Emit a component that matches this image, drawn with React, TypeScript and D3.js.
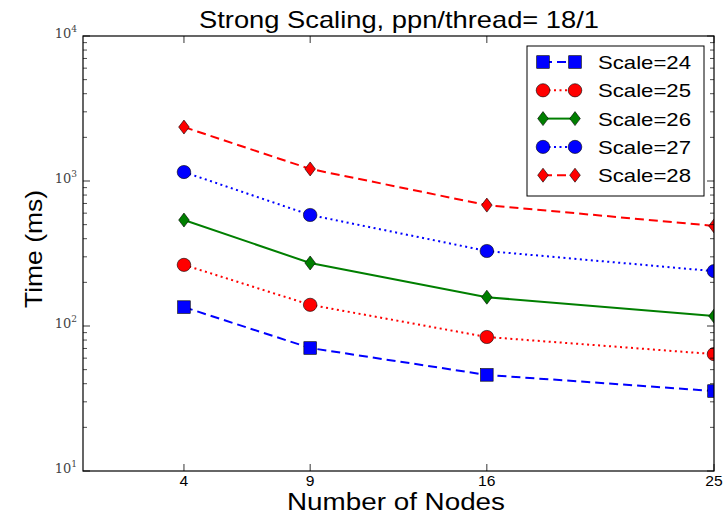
import React from "react";
import * as d3 from "d3";

const nodes = [4, 9, 16, 25];
const seriesNames = ["Scale=24", "Scale=25", "Scale=26", "Scale=27", "Scale=28"];
const scale24 = [135, 70.5, 46, 35.6];
const scale25 = [264, 140, 84, 64];
const scale26 = [538, 272, 158, 117];
const scale27 = [1153, 583, 329, 239];
const scale28 = [2355, 1211, 682, 490];
const xTickLabels = ["4", "9", "16", "25"];
const yMajor = [1, 2, 3, 4];

const seriesValues = [scale24, scale25, scale26, scale27, scale28];
const styles = [
  { color: "#0000ff", dash: "9,5", marker: "square" },
  { color: "#ff0000", dash: "2,3.5", marker: "circle" },
  { color: "#007f00", dash: "", marker: "diamond" },
  { color: "#0000ff", dash: "2,3.5", marker: "circle" },
  { color: "#ff0000", dash: "9,5", marker: "diamond" },
];

const L = 83, R = 714, T = 36, B = 471;
const SANS = "Liberation Sans, Arial, sans-serif";

function Marker({ type, x, y, color }: { type: string; x: number; y: number; color: string }) {
  if (type === "square")
    return <rect x={x - 6.3} y={y - 6.3} width={12.6} height={12.6} fill={color} stroke="#000" strokeWidth={0.6} />;
  if (type === "circle")
    return <ellipse cx={x} cy={y} rx={6.8} ry={6.6} fill={color} stroke="#000" strokeWidth={0.6} />;
  return (
    <path d={`M${x},${y - 7}L${x + 5.3},${y}L${x},${y + 7}L${x - 5.3},${y}Z`} fill={color} stroke="#000" strokeWidth={0.6} />
  );
}

export default function App() {
  const x = d3.scaleLinear().domain([0, 25]).range([L, R]);
  const y = d3.scaleLog().domain([10, 10000]).range([B, T]);
  const line = d3.line<[number, number]>().x((d) => x(d[0])).y((d) => y(d[1]));

  const minor: number[] = [];
  for (let e = 1; e < 4; e++) for (let m = 2; m <= 9; m++) minor.push(m * Math.pow(10, e));

  return (
    <svg width={724} height={515} style={{ position: "absolute", left: 0, top: 0 }}>
      <defs>
        <clipPath id="plot">
          <rect x={L} y={T} width={R - L} height={B - T} />
        </clipPath>
      </defs>
      <rect width={724} height={515} fill="#fff" />
      <text x={399} y={28} textAnchor="middle" fontFamily={SANS} fontSize={24} textLength={400} lengthAdjust="spacingAndGlyphs">
        Strong Scaling, ppn/thread= 18/1
      </text>
      <g clipPath="url(#plot)">
        {seriesValues.map((vals, i) => {
          const pts = nodes.map((n, j) => [n, vals[j]] as [number, number]);
          const s = styles[i];
          return (
            <g key={i}>
              <path d={line(pts) || ""} fill="none" stroke={s.color} strokeWidth={2} strokeDasharray={s.dash || undefined} />
              {pts.map((p, j) => (
                <Marker key={j} type={s.marker} x={x(p[0])} y={y(p[1])} color={s.color} />
              ))}
            </g>
          );
        })}
      </g>
      <rect x={L} y={T} width={R - L} height={B - T} fill="none" stroke="#000" strokeWidth={1.2} />
      {nodes.map((n, i) => (
        <g key={i}>
          <line x1={x(n)} x2={x(n)} y1={B} y2={B - 7} stroke="#000" strokeWidth={0.8} />
          <line x1={x(n)} x2={x(n)} y1={T} y2={T + 7} stroke="#000" strokeWidth={0.8} />
          <text x={x(n)} y={486} textAnchor="middle" fontFamily={SANS} fontSize={14} transform={`translate(${x(n)},0) scale(1.12,1) translate(${-x(n)},0)`}>
            {xTickLabels[i]}
          </text>
        </g>
      ))}
      {yMajor.map((e) => {
        const v = Math.pow(10, e);
        return (
          <g key={e}>
            <line x1={L} x2={L + 7} y1={y(v)} y2={y(v)} stroke="#000" strokeWidth={0.8} />
            <line x1={R} x2={R - 7} y1={y(v)} y2={y(v)} stroke="#000" strokeWidth={0.8} />
            <text x={77} y={y(v) + 2} textAnchor="end" fontFamily="DejaVu Serif, serif" fontSize={13} fill="#444">
              10<tspan dy={-6} fontSize={9}>{e}</tspan>
            </text>
          </g>
        );
      })}
      {minor.map((v, i) => (
        <g key={i}>
          <line x1={L} x2={L + 4} y1={y(v)} y2={y(v)} stroke="#000" strokeWidth={0.7} />
          <line x1={R} x2={R - 4} y1={y(v)} y2={y(v)} stroke="#000" strokeWidth={0.7} />
        </g>
      ))}
      <text x={396} y={510} textAnchor="middle" fontFamily={SANS} fontSize={23} textLength={218} lengthAdjust="spacingAndGlyphs">
        Number of Nodes
      </text>
      <text transform={`translate(42,249) rotate(-90)`} textAnchor="middle" fontFamily={SANS} fontSize={24} textLength={118} lengthAdjust="spacingAndGlyphs">
        Time (ms)
      </text>
      <rect x={527} y={46} width={177} height={150} fill="#fff" stroke="#000" strokeWidth={1} />
      {seriesNames.map((name, i) => {
        const s = styles[i];
        const ly = 62 + i * 28.3;
        return (
          <g key={i}>
            <line x1={543} x2={575} y1={ly} y2={ly} stroke={s.color} strokeWidth={2} strokeDasharray={s.dash || undefined} />
            <Marker type={s.marker} x={543} y={ly} color={s.color} />
            <Marker type={s.marker} x={575} y={ly} color={s.color} />
            <text x={598} y={ly + 7} fontFamily={SANS} fontSize={19} textLength={93} lengthAdjust="spacingAndGlyphs">
              {name}
            </text>
          </g>
        );
      })}
    </svg>
  );
}
